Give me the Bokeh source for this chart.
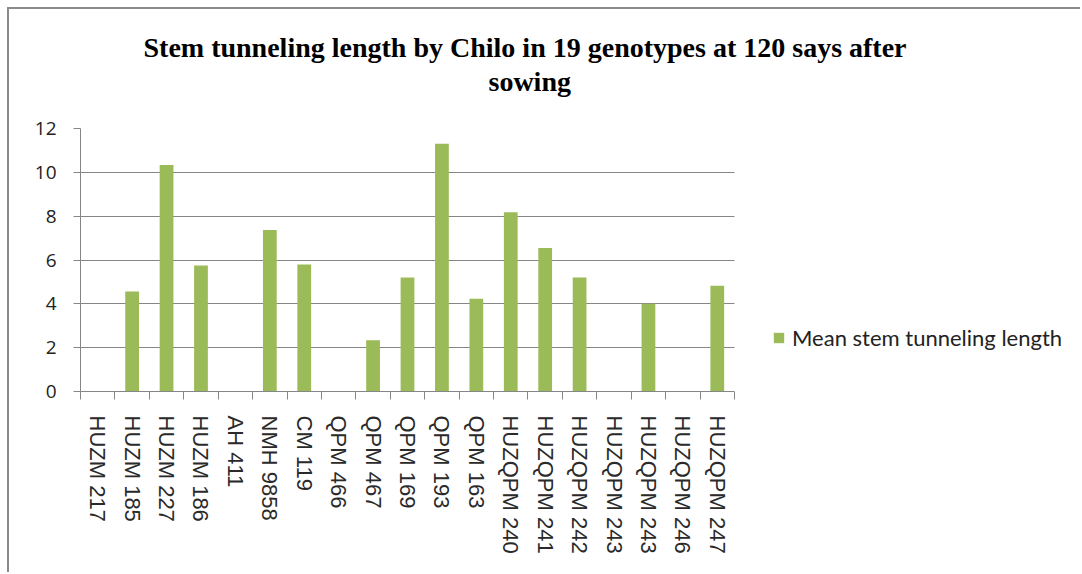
from bokeh.plotting import figure
from bokeh.models import (FixedTicker, Legend, LegendItem, Title, ColumnDataSource,
                          Range1d, BoxAnnotation)
from bokeh.embed import file_html
from bokeh.resources import INLINE

genotypes = ["HUZM 217", "HUZM 185", "HUZM 227", "HUZM 186", "AH 411", "NMH 9858",
             "CM 119", "QPM 466", "QPM 467", "QPM 169", "QPM 193", "QPM 163",
             "HUZQPM 240", "HUZQPM 241", "HUZQPM 242", "HUZQPM 243", "HUZQPM 243",
             "HUZQPM 246", "HUZQPM 247"]
mean_length = [0, 4.56, 10.34, 5.75, 0, 7.37, 5.79, 0, 2.34, 5.2, 11.3, 4.23,
               8.18, 6.55, 5.2, 0, 4.0, 0, 4.82]
y_ticks = [0, 2, 4, 6, 8, 10, 12]
series_name = "Mean stem tunneling length"
title_line1 = "Stem tunneling length by Chilo in 19 genotypes at 120 says after"
title_line2 = "sowing"

n = len(genotypes)
positions = list(range(1, n + 1))
source = ColumnDataSource(data=dict(x=positions, top=mean_length, name=genotypes))

GRAY = "#868686"
GREEN = "#9BBB59"

FIG_W, FIG_H = 1073, 565
LEFT, TOP, BOTTOM = 71, 119, 183
CAT_AREA = 654  # pixel width occupied by the categories
frame_w = FIG_W - LEFT
x_end = 0.5 + n * frame_w / CAT_AREA

p = figure(width=FIG_W, height=FIG_H, x_range=Range1d(0.5, x_end),
           y_range=Range1d(0, 12), output_backend="svg", toolbar_location=None,
           title=None, min_border_left=LEFT, min_border_right=0,
           min_border_bottom=BOTTOM, min_border_top=TOP)
p.outline_line_color = None
p.styles = {"margin-left": "7px", "margin-top": "7px",
            "border-top": "2px solid #8a8a8a", "border-left": "2px solid #8a8a8a"}

r = p.vbar(x="x", top="top", width=0.4, source=source, fill_color=GREEN,
           line_color=None)

# blank out grid beyond the category area (legend area)
p.add_layout(BoxAnnotation(left=n + 0.5, fill_color="white", fill_alpha=1,
                           line_color=None))

spacer = Title(text=" ", text_font_size="1px", standoff=28)
t2 = Title(text=title_line2, align="left", offset=408, text_font="Liberation Serif",
           text_font_size="28px", text_font_style="bold", standoff=2, text_color="black")
t1 = Title(text=title_line1, align="left", offset=63, text_font="Liberation Serif",
           text_font_size="28px", text_font_style="bold", standoff=0, text_color="black")
p.add_layout(spacer, "above")
p.add_layout(t2, "above")
p.add_layout(t1, "above")

xa = p.xaxis[0]
xa.ticker = FixedTicker(ticks=positions, minor_ticks=[i + 0.5 for i in range(n + 1)])
xa.major_label_overrides = {pos: g for pos, g in zip(positions, genotypes)}
xa.bounds = (0.5, n + 0.5)
xa.major_tick_out = 0
xa.major_tick_in = 0
xa.minor_tick_out = 8
xa.minor_tick_in = 0
xa.minor_tick_line_color = GRAY
xa.axis_line_color = GRAY
xa.major_label_orientation = "vertical"
xa.major_label_text_font = "Liberation Sans"
xa.major_label_text_font_size = "22px"
xa.major_label_text_color = "#2a2a2a"
xa.major_label_standoff = 16

ya = p.yaxis[0]
ya.ticker = FixedTicker(ticks=y_ticks)
ya.axis_line_color = GRAY
ya.major_tick_out = 7
ya.major_tick_in = 0
ya.major_tick_line_color = GRAY
ya.minor_tick_out = 0
ya.minor_tick_in = 0
ya.major_label_text_font = "Open Sans"
ya.major_label_text_font_size = "19px"
ya.major_label_text_color = "#222222"
ya.major_label_standoff = 17

p.xgrid.visible = False
p.ygrid.ticker = FixedTicker(ticks=y_ticks)
p.ygrid.grid_line_color = GRAY

legend = Legend(items=[LegendItem(label=series_name, renderers=[r])],
                location=(692, 40), padding=0, margin=0, border_line_color=None,
                background_fill_alpha=0, glyph_width=13, glyph_height=13,
                label_standoff=7, label_text_font="Lato", label_text_font_size="22px",
                label_text_color="#222222")
p.add_layout(legend, "center")

open("out.html", "w").write(file_html(p, INLINE))
